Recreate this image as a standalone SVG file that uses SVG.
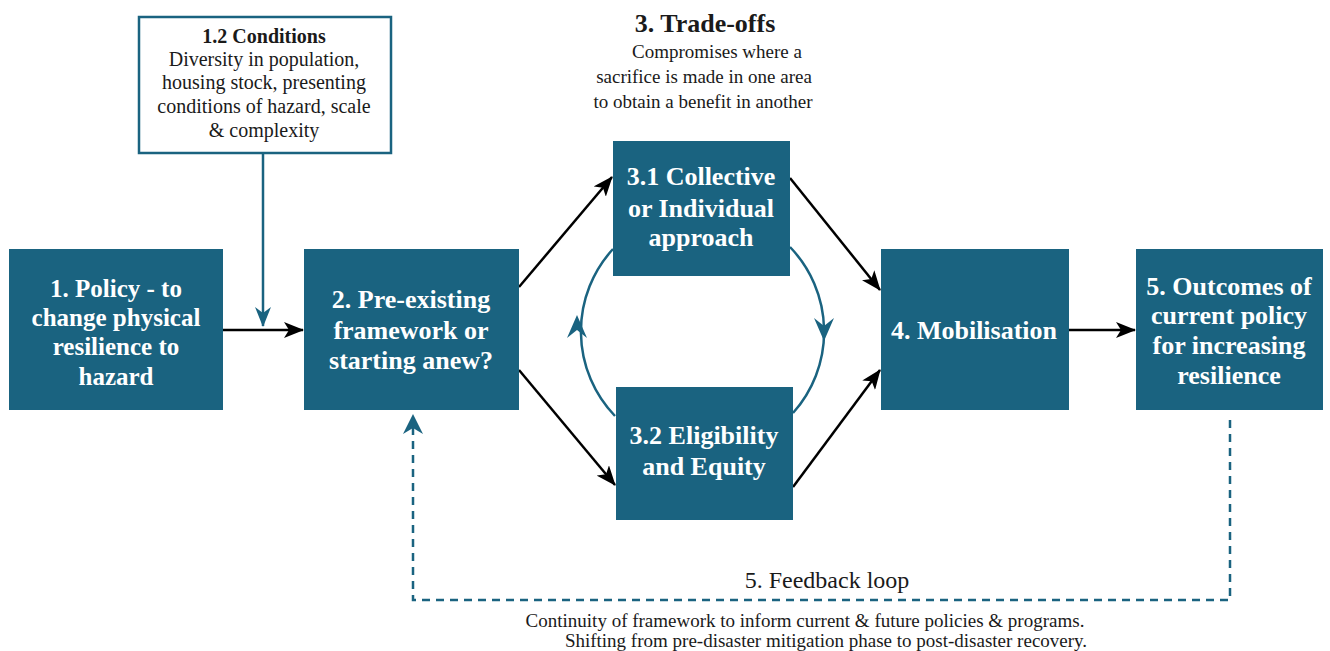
<svg xmlns="http://www.w3.org/2000/svg" width="1330" height="651" viewBox="0 0 1330 651">
<defs>
<style>
.box{fill:#1a6380}
.bt{font-family:'Liberation Serif','Times New Roman',serif;font-weight:bold;font-size:26px;fill:#ffffff;text-anchor:middle}
.t{font-family:'Liberation Serif','Times New Roman',serif;font-size:20px;fill:#1a1a1a;text-anchor:middle}
.tb{font-weight:bold}
.blk{stroke:#000;stroke-width:2.5;fill:none}
.teal{stroke:#1a6380;stroke-width:2.5;fill:none}
.dash{stroke:#1a6380;stroke-width:2.5;fill:none;stroke-dasharray:8,6}
</style>
<marker id="ab" viewBox="0 0 20 16" refX="19" refY="8" markerWidth="20" markerHeight="16" markerUnits="userSpaceOnUse" orient="auto">
<path d="M0,0 L20,8 L0,16 L5,8 Z" fill="#000"/>
</marker>
<marker id="at" viewBox="0 0 20 16" refX="19" refY="8" markerWidth="20" markerHeight="16" markerUnits="userSpaceOnUse" orient="auto">
<path d="M0,0 L20,8 L0,16 L6,8 Z" fill="#1a6380"/>
</marker>
</defs>
<rect width="1330" height="651" fill="#ffffff"/>

<g id="connectors">
<path class="teal" d="M263,153 V326" marker-end="url(#at)"/>
<path class="blk" d="M223,330 H303" marker-end="url(#ab)"/>
<path class="blk" d="M519,287 L612,177" marker-end="url(#ab)"/>
<path class="blk" d="M519,370 L615,485" marker-end="url(#ab)"/>
<path class="blk" d="M790,178 L880,290" marker-end="url(#ab)"/>
<path class="blk" d="M793,487 L880,370" marker-end="url(#ab)"/>
<path class="blk" d="M1069,330 H1135" marker-end="url(#ab)"/>
<path class="teal" d="M613,249 A122,122 0 0 0 615,416"/>
<path class="teal" d="M790,247 A122,122 0 0 1 793,413"/>
<path d="M567,338 L577,315 L587,338 L577,330 Z" fill="#1a6380"/>
<path d="M814,318 L824,341 L834,318 L824,326 Z" fill="#1a6380"/>
<path class="dash" d="M1230,420 V600 H413 V422"/>
<path d="M403,434 L413,414 L423,434 L413,428 Z" fill="#1a6380"/>
</g>

<g id="conditions">
<rect x="139" y="17" width="252" height="136" fill="#fff" stroke="#1a6380" stroke-width="2.5"/>
<text class="t tb" x="264" y="43">1.2 Conditions</text>
<text class="t" x="264" y="66">Diversity in population,</text>
<text class="t" x="264" y="89">housing stock, presenting</text>
<text class="t" x="264" y="113">conditions of hazard, scale</text>
<text class="t" x="264" y="137">&amp; complexity</text>
</g>

<g id="tradeoffs">
<text class="t tb" x="705" y="32" style="font-size:26px">3. Trade-offs</text>
<text class="t" x="717" y="58" style="font-size:19px">Compromises where a</text>
<text class="t" x="704" y="83" style="font-size:19px">sacrifice is made in one area</text>
<text class="t" x="703" y="108" style="font-size:19px">to obtain a benefit in another</text>
</g>

<g id="n1">
<rect class="box" x="9" y="249" width="214" height="161"/>
<text class="bt" x="116" y="297" style="font-size:25px">1. Policy - to</text>
<text class="bt" x="116" y="326" style="font-size:25px">change physical</text>
<text class="bt" x="116" y="355" style="font-size:25px">resilience to</text>
<text class="bt" x="116" y="385" style="font-size:25px">hazard</text>
</g>

<g id="n2">
<rect class="box" x="304" y="249" width="215" height="161"/>
<text class="bt" x="411" y="308">2. Pre-existing</text>
<text class="bt" x="411" y="339">framework or</text>
<text class="bt" x="411" y="369">starting anew?</text>
</g>

<g id="n31">
<rect class="box" x="613" y="141" width="177" height="135"/>
<text class="bt" x="701" y="185">3.1 Collective</text>
<text class="bt" x="701" y="217">or Individual</text>
<text class="bt" x="701" y="246">approach</text>
</g>

<g id="n32">
<rect class="box" x="616" y="387" width="177" height="133"/>
<text class="bt" x="704" y="444">3.2 Eligibility</text>
<text class="bt" x="704" y="475">and Equity</text>
</g>

<g id="n4">
<rect class="box" x="881" y="249" width="188" height="161"/>
<text class="bt" x="974" y="339">4. Mobilisation</text>
</g>

<g id="n5">
<rect class="box" x="1136" y="249" width="187" height="161"/>
<text class="bt" x="1229" y="295">5. Outcomes of</text>
<text class="bt" x="1229" y="324">current policy</text>
<text class="bt" x="1229" y="354">for increasing</text>
<text class="bt" x="1229" y="384">resilience</text>
</g>

<g id="feedback">
<text class="t" x="827" y="588" style="font-size:24px">5. Feedback loop</text>
<text class="t" x="805" y="627" style="font-size:19px">Continuity of framework to inform current &amp; future policies &amp; programs.</text>
<text class="t" x="826" y="647" style="font-size:19px">Shifting from pre-disaster mitigation phase to post-disaster recovery.</text>
</g>
</svg>
